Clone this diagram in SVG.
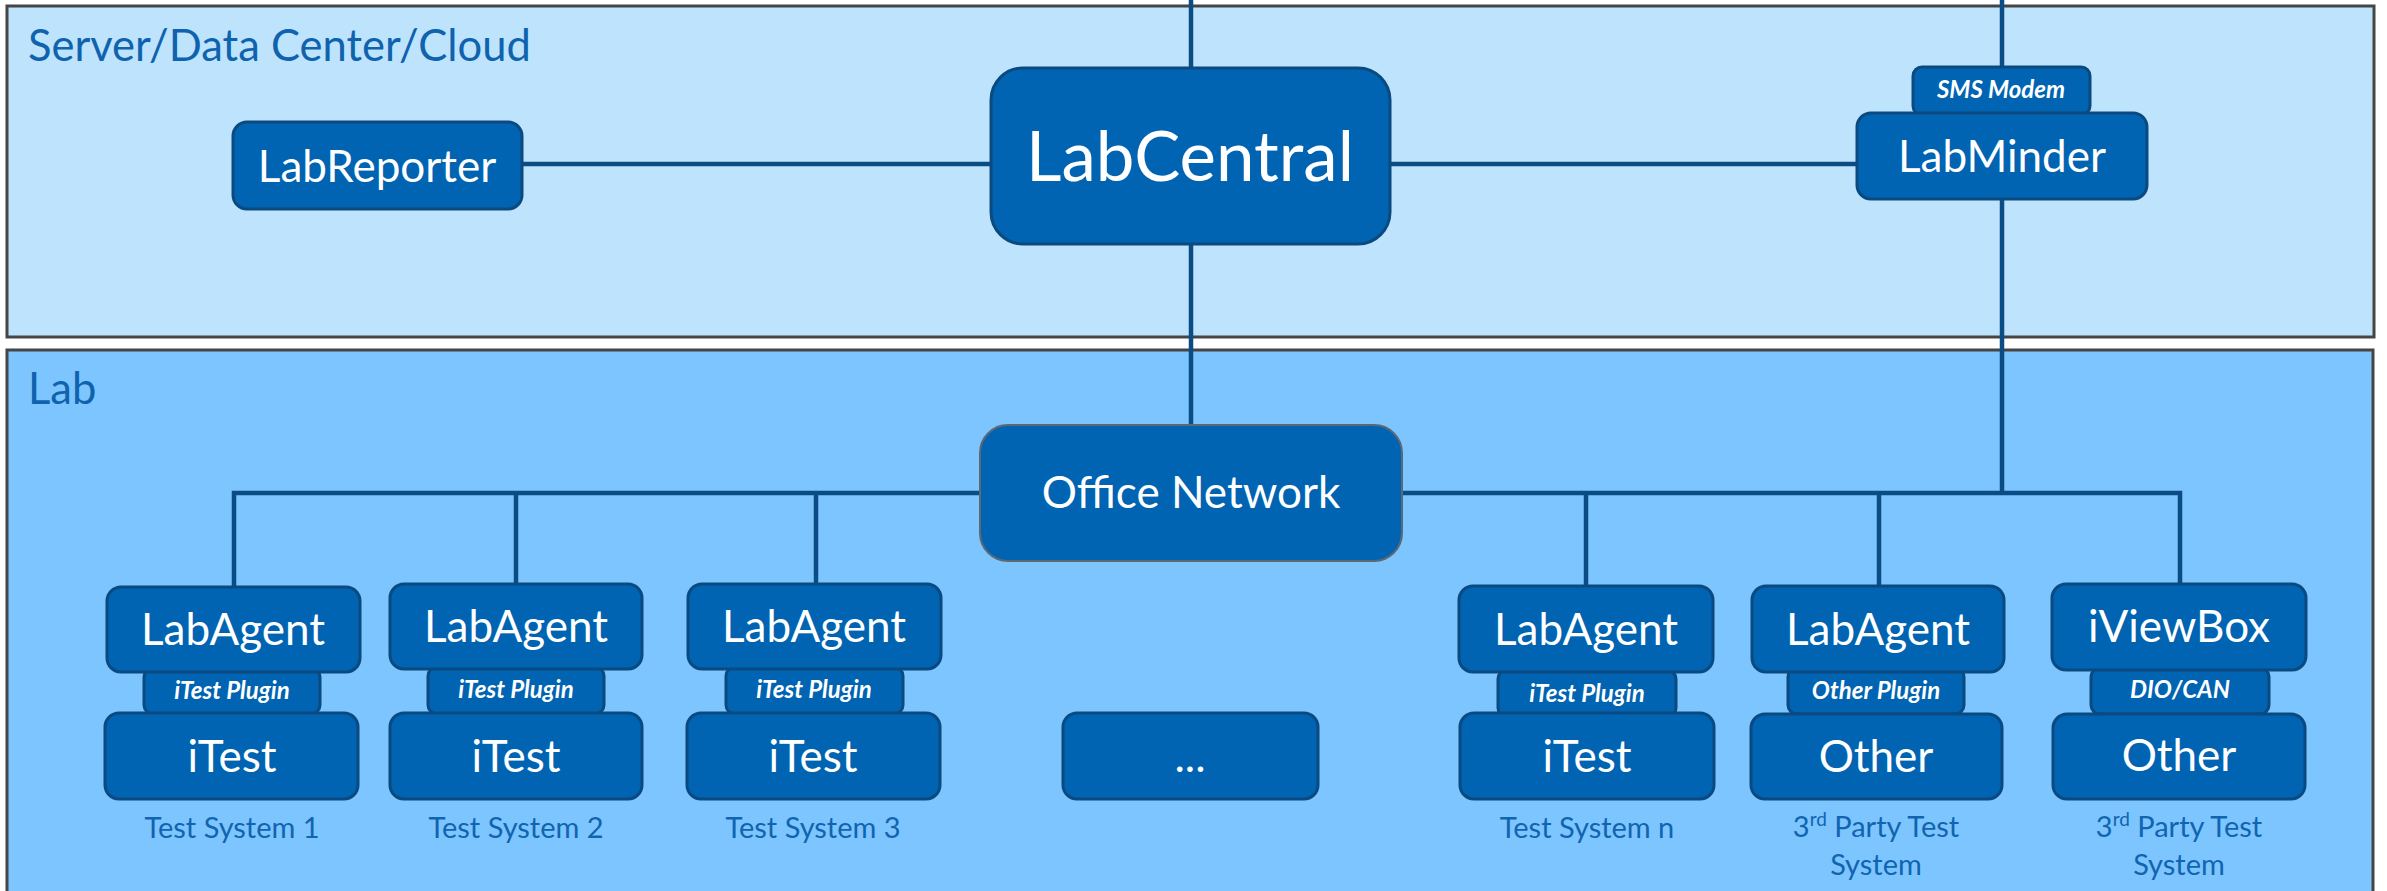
<svg xmlns="http://www.w3.org/2000/svg" width="2387" height="891" viewBox="0 0 2387 891">
<style>
.panel-top{fill:#BEE3FC;stroke:#454545;stroke-width:3}
.panel-lab{fill:#7DC5FE;stroke:#454545;stroke-width:3}
.ptitle{font-family:Lato,"Open Sans",sans-serif;font-size:43.5px;fill:#0F63AE}
.box{fill:#0064B2;stroke:#0B4A80;stroke-width:3}
.boxg{fill:#0064B2;stroke:#5C6874;stroke-width:2}
.t{font-family:Lato,"Open Sans",sans-serif;font-size:44px;fill:#FFFFFF;text-anchor:middle}
.tbig{font-family:Lato,"Open Sans",sans-serif;font-size:69px;fill:#FFFFFF;text-anchor:middle}
.tab{font-family:Lato,"Open Sans",sans-serif;font-size:24px;font-weight:bold;font-style:italic;fill:#FFFFFF;text-anchor:middle}
.lbl{font-family:Lato,"Open Sans",sans-serif;font-size:29px;fill:#1064B0;text-anchor:middle}
.conn{fill:none;stroke:#0B4C85;stroke-width:4.5}
</style>
<rect x="0" y="0" width="2387" height="891" fill="#FFFFFF"/>
<g id="panel-server">
<rect class="panel-top" x="7" y="6" width="2367" height="331"/>
<text class="ptitle" x="28" y="61">Server/Data Center/Cloud</text>
</g>
<g id="panel-lab">
<rect class="panel-lab" x="7" y="350" width="2366" height="570"/>
<text class="ptitle" x="28" y="404">Lab</text>
</g>
<g id="connectors">
<line class="conn" x1="1191" y1="0" x2="1191" y2="68"/>
<line class="conn" x1="1191" y1="244" x2="1191" y2="425"/>
<line class="conn" x1="522" y1="164" x2="991" y2="164"/>
<line class="conn" x1="1390" y1="164" x2="1857" y2="164"/>
<line class="conn" x1="2002" y1="0" x2="2002" y2="67"/>
<line class="conn" x1="2002" y1="199" x2="2002" y2="493"/>
<polyline class="conn" points="234,587 234,493 2180,493 2180,584"/>
<line class="conn" x1="516" y1="493" x2="516" y2="584"/>
<line class="conn" x1="816" y1="493" x2="816" y2="584"/>
<line class="conn" x1="1586" y1="493" x2="1586" y2="586"/>
<line class="conn" x1="1879" y1="493" x2="1879" y2="586"/>
</g>
<g id="labreporter">
<rect class="box" x="233" y="122" width="289" height="87" rx="14"/>
<text class="t" x="377" y="182">LabReporter</text>
</g>
<g id="labcentral">
<rect class="box" x="991" y="68" width="399" height="176" rx="32"/>
<text class="tbig" x="1190" y="181">LabCentral</text>
</g>
<g id="labminder">
<rect class="box" x="1913" y="67" width="177" height="48" rx="9"/>
<text class="tab" x="2001" y="98">SMS Modem</text>
<rect class="box" x="1857" y="113" width="290" height="86" rx="14"/>
<text class="t" x="2002" y="172">LabMinder</text>
</g>
<g id="office-network">
<rect class="boxg" x="980" y="425" width="422" height="136" rx="28"/>
<text class="t" x="1191" y="508">Office Network</text>
</g>
<g id="test-system-1">
<rect class="box" x="144" y="668" width="176" height="46" rx="9"/>
<text class="tab" x="232" y="699">iTest Plugin</text>
<rect class="box" x="107" y="587" width="253" height="85" rx="14"/>
<text class="t" x="233" y="645">LabAgent</text>
<rect class="box" x="105" y="713" width="253" height="86" rx="14"/>
<text class="t" x="232" y="772">iTest</text>
<text class="lbl" x="232" y="838">Test System 1</text>
</g>
<g id="test-system-2">
<rect class="box" x="428" y="667" width="176" height="47" rx="9"/>
<text class="tab" x="516" y="698">iTest Plugin</text>
<rect class="box" x="390" y="584" width="252" height="85" rx="14"/>
<text class="t" x="516" y="642">LabAgent</text>
<rect class="box" x="390" y="713" width="252" height="86" rx="14"/>
<text class="t" x="516" y="772">iTest</text>
<text class="lbl" x="516" y="838">Test System 2</text>
</g>
<g id="test-system-3">
<rect class="box" x="726" y="667" width="177" height="47" rx="9"/>
<text class="tab" x="814" y="698">iTest Plugin</text>
<rect class="box" x="688" y="584" width="253" height="85" rx="14"/>
<text class="t" x="814" y="642">LabAgent</text>
<rect class="box" x="687" y="713" width="253" height="86" rx="14"/>
<text class="t" x="813" y="772">iTest</text>
<text class="lbl" x="813" y="838">Test System 3</text>
</g>
<g id="more">
<rect class="box" x="1063" y="713" width="255" height="86" rx="14"/>
<text class="t" x="1190" y="772">...</text>
</g>
<g id="test-system-n">
<rect class="box" x="1498" y="670" width="178" height="47" rx="9"/>
<text class="tab" x="1587" y="702">iTest Plugin</text>
<rect class="box" x="1459" y="586" width="254" height="86" rx="14"/>
<text class="t" x="1586" y="645">LabAgent</text>
<rect class="box" x="1460" y="713" width="254" height="86" rx="14"/>
<text class="t" x="1587" y="772">iTest</text>
<text class="lbl" x="1587" y="838">Test System n</text>
</g>
<g id="third-party-1">
<rect class="box" x="1788" y="668" width="176" height="46" rx="9"/>
<text class="tab" x="1876" y="699">Other Plugin</text>
<rect class="box" x="1752" y="586" width="252" height="86" rx="14"/>
<text class="t" x="1878" y="645">LabAgent</text>
<rect class="box" x="1751" y="714" width="251" height="85" rx="14"/>
<text class="t" x="1876" y="772">Other</text>
<text class="lbl" x="1876" y="837">3<tspan dy="-11" font-size="19">rd</tspan><tspan dy="11"> Party Test</tspan></text>
<text class="lbl" x="1876" y="875">System</text>
</g>
<g id="third-party-2">
<rect class="box" x="2091" y="668" width="178" height="46" rx="9"/>
<text class="tab" x="2180" y="698">DIO/CAN</text>
<rect class="box" x="2052" y="584" width="254" height="86" rx="14"/>
<text class="t" x="2179" y="642">iViewBox</text>
<rect class="box" x="2053" y="714" width="252" height="85" rx="14"/>
<text class="t" x="2179" y="771">Other</text>
<text class="lbl" x="2179" y="837">3<tspan dy="-11" font-size="19">rd</tspan><tspan dy="11"> Party Test</tspan></text>
<text class="lbl" x="2179" y="875">System</text>
</g>
</svg>
